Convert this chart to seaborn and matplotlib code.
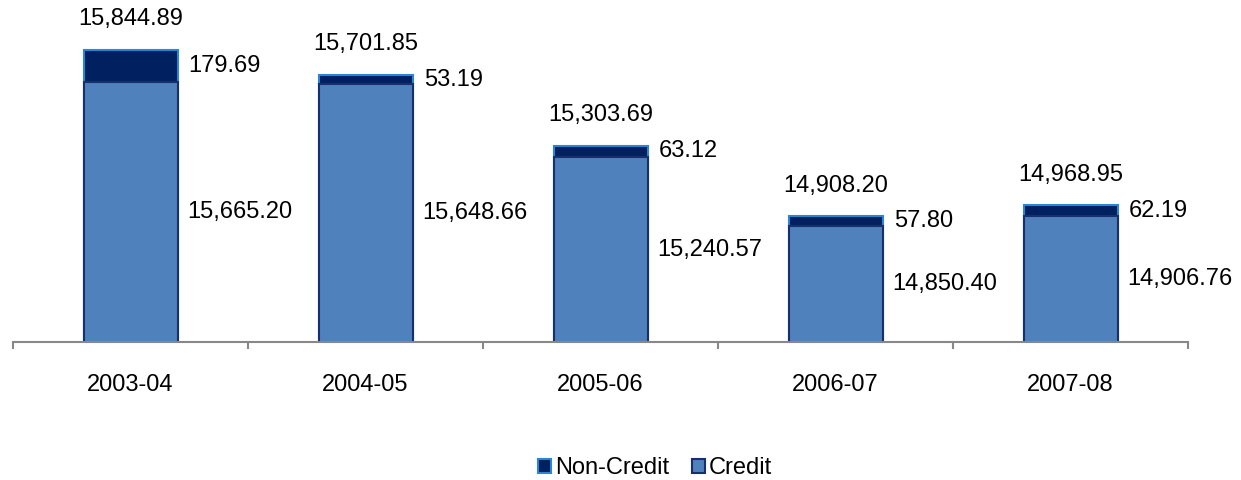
import pandas as pd
import matplotlib.pyplot as plt
import seaborn as sns
from matplotlib.patches import Patch
from matplotlib.ticker import FixedLocator

# -------------------------
# Data
# -------------------------
years = ["2003-04", "2004-05", "2005-06", "2006-07", "2007-08"]
credit = [15665.20, 15648.66, 15240.57, 14850.40, 14906.76]
non_credit = [179.69, 53.19, 63.12, 57.80, 62.19]
totals = [15844.89, 15701.85, 15303.69, 14908.20, 14968.95]

df = pd.DataFrame({"year": years, "credit": credit,
                   "non_credit": non_credit, "total": totals})

credit_color = "#4F81BD"
credit_edge = "#17306B"
nc_color = "#002060"
nc_edge = "#2A86D4"
ymin, ymax = 14200, 16000

sns.set_style("white")
plt.rcParams["font.family"] = ["Liberation Sans", "DejaVu Sans"]
plt.rcParams["text.color"] = "black"
plt.rcParams["xtick.color"] = "black"

fig = plt.figure(figsize=(12.41, 4.8), dpi=100)
ax = fig.add_axes([13 / 1241, 1 - 342 / 480, 1175 / 1241, 320 / 480])

# -------------------------
# Stacked bars (total underneath, credit on top)
# -------------------------
sns.barplot(data=df, x="year", y="total", color=nc_color, saturation=1,
            width=0.4, edgecolor=nc_edge, linewidth=1.5, ax=ax)
sns.barplot(data=df, x="year", y="credit", color=credit_color, saturation=1,
            width=0.4, edgecolor=credit_edge, linewidth=1.5, ax=ax)

ax.set_ylim(ymin, ymax)
ax.set_xlim(-0.5, len(years) - 0.5)
ax.set_xlabel("")
ax.set_ylabel("")
ax.set_yticks([])

for side in ["top", "right", "left"]:
    ax.spines[side].set_visible(False)
ax.spines["bottom"].set_color("#888888")
ax.spines["bottom"].set_linewidth(1.5)

ax.tick_params(axis="x", which="major", length=0, pad=23, labelsize=17,
               labelcolor="black")
ax.xaxis.set_minor_locator(FixedLocator([i - 0.5 for i in range(len(years) + 1)]))
ax.tick_params(axis="x", which="minor", bottom=True, length=5, width=1.5,
               color="#888888", direction="out")

# -------------------------
# Value labels
# -------------------------
for i in range(len(years)):
    ax.annotate(f"{totals[i]:,.2f}", (i, totals[i]), xytext=(0, 22),
                textcoords="offset points", ha="center", va="center",
                fontsize=17, color="black", annotation_clip=False)
    ax.annotate(f"{non_credit[i]:,.2f}", (i + 0.2, credit[i] + non_credit[i] / 2),
                xytext=(8, 0), textcoords="offset points", ha="left",
                va="center", fontsize=17, color="black", annotation_clip=False)
    ax.annotate(f"{credit[i]:,.2f}", (i + 0.2, (ymin + credit[i]) / 2),
                xytext=(7, 0), textcoords="offset points", ha="left",
                va="center", fontsize=17, color="black", annotation_clip=False)

# -------------------------
# Legend
# -------------------------
handles = [
    Patch(facecolor=nc_color, edgecolor=nc_edge, linewidth=1.5, label="Non-Credit"),
    Patch(facecolor=credit_color, edgecolor=credit_edge, linewidth=1.5, label="Credit"),
]
fig.legend(handles=handles, loc="center", bbox_to_anchor=(0.528, 0.025),
           ncol=2, frameon=False, fontsize=17, handlelength=0.55,
           handleheight=0.55, handletextpad=0.15, columnspacing=1.0,
           labelcolor="black")

fig.savefig("out.png", dpi=100)
